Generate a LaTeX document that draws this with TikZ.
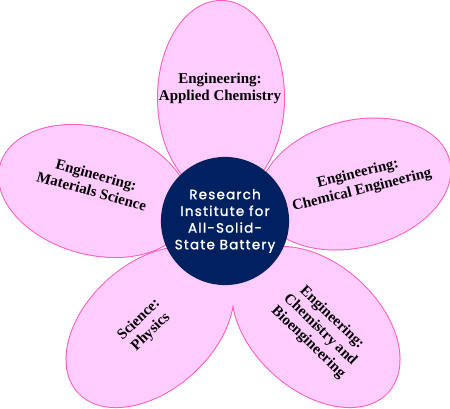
\documentclass[tikz,border=0pt]{standalone}
\usepackage{fontspec}
\setmainfont{Liberation Serif}
\newfontfamily\roundfont[LetterSpace=9, FakeBold=1.5]{Poppins}
\usepackage{tikz}
\usetikzlibrary{shapes.geometric}
\definecolor{petalfill}{RGB}{255,204,255}
\definecolor{petaledge}{RGB}{255,92,180}
\definecolor{hubblue}{RGB}{0,32,96}

\begin{document}
\begin{tikzpicture}[x=1pt, y=1pt,
    petal/.style={ellipse, fill=petalfill, inner sep=0pt, minimum width=194pt, minimum height=126pt},
    rim/.style={ellipse, draw=petaledge, line width=2pt, inner sep=0pt, minimum width=194pt, minimum height=126pt},
    petaltext/.style={align=center, font=\bfseries\fontsize{15}{17}\selectfont}]
    \useasboundingbox (0,0) rectangle (450,408);
    % outlines first, the fills then hide the inner parts
    \foreach \x/\y/\a in {221/310/90, 355/224/14, 94/217/-15.5, 150/81/42, 316/81/-42}
        \node[rim, rotate=\a] at (\x,\y) {};
    \node[petal, rotate=90] (apchem) at (221,310) {};
    \node[petal, rotate=14] (cheme) at (355,224) {};
    \node[petal, rotate=-15.5] (matsci) at (94,217) {};
    \node[petal, rotate=42] (physics) at (150,81) {};
    \node[petal, rotate=-42] (bioeng) at (316,81) {};
    \node[petaltext] (apchem-lbl) at (220,320) {Engineering:\\Applied Chemistry};
    \node[petaltext, rotate=14] (cheme-lbl) at (360,226) {Engineering:\\Chemical Engineering};
    \node[petaltext, rotate=-15.5] (matsci-lbl) at (94,225) {Engineering:\\Materials Science};
    \node[petaltext, rotate=44] (physics-lbl) at (145,82) {Science:\\Physics};
    \node[petaltext, rotate=-44] (bioeng-lbl) at (320,78) {Engineering:\\Chemistry and\\Bioengineering};
    \node[circle, fill=hubblue, minimum size=120pt, text=white, align=center,
          font=\roundfont\fontsize{13.5}{16.7}\selectfont] (hub) at (225,187)
          {Research\\Institute for\\All-Solid-\\State Battery};
\end{tikzpicture}
\end{document}
